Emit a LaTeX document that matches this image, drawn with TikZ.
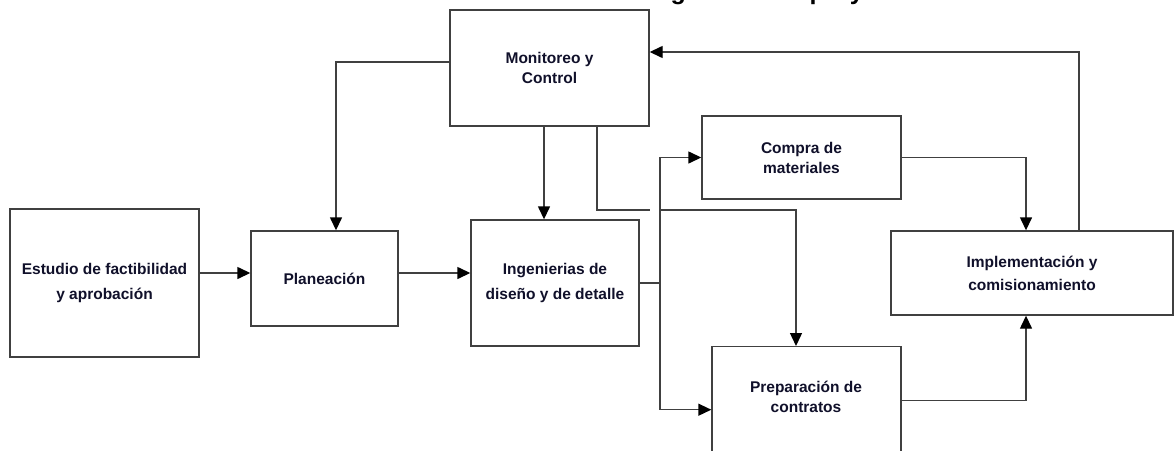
\documentclass[tikz,border=0pt]{standalone}
\usepackage{fontspec}
\setmainfont{Liberation Sans}
\usetikzlibrary{arrows.meta}
\definecolor{edge}{HTML}{404040}
\definecolor{ink}{HTML}{10102A}
\begin{document}
\begin{tikzpicture}[x=1pt,y=-1pt,
  box/.style={draw=edge, line width=1.4pt, fill=white, inner sep=0pt},
  lbl/.style={text=ink, font=\bfseries\fontsize{15.5}{20}\selectfont, align=center},
  wide/.style={font=\bfseries\fontsize{15.5}{25}\selectfont},
  wire/.style={draw=edge, line width=1.4pt},
  arr/.style={wire, -{Triangle[length=13pt,width=12pt,color=black]}}]
\useasboundingbox (0,0) rectangle (1174,450);
\clip (0,0) rectangle (1174,450);

% title (only its lower edge falls inside the page)
\node[anchor=base west, inner sep=0pt, font=\bfseries\fontsize{25}{30}\selectfont] (title) at (670.5,-1) {gestión del proyecto};

% process boxes
\node[box, lbl, minimum width=199, minimum height=116] (mon) at (549.5,68) {Monitoreo y\\Control};
\node[box, lbl, wide, minimum width=189, minimum height=148] (est) at (104.5,283) {Estudio de factibilidad\\y aprobación};
\node[box, lbl, minimum width=147, minimum height=95] (pla) at (324.5,278.5) {Planeación};
\node[box, lbl, wide, minimum width=168, minimum height=126] (ing) at (555,283) {Ingenierias de\\diseño y de detalle};
\node[box, lbl, minimum width=199, minimum height=83] (com) at (801.5,157.5) {Compra de\\materiales};
\node[box, lbl, font=\bfseries\fontsize{15.5}{23}\selectfont, minimum width=282, minimum height=84] (imp) at (1032,273) {Implementación y\\comisionamiento};
\node[box, minimum width=189, minimum height=130, anchor=north] (prep) at (806.5,346) {};
\node[lbl] (preptext) at (806,397) {Preparación de\\contratos};

% junction points of the distribution line
\coordinate (split) at (660,210);
\coordinate (jump) at (650,210);

% connectors
\draw[arr] ([yshift=10pt]est.east) -- ([yshift=10pt]est.east -| pla.west);
\draw[arr] ([yshift=5.5pt]pla.east) -- ([yshift=5.5pt]pla.east -| ing.west);
\draw[arr] ([yshift=6pt]mon.west) -| ([xshift=11.5pt]pla.north);
\draw[arr] ([xshift=-5.5pt]mon.south) -- ([xshift=-5.5pt]mon.south |- ing.north);
\draw[wire] ([xshift=47.5pt]mon.south) |- (jump);
\draw[arr] (split) -| ([xshift=-10.5pt]prep.north);
\draw[wire] (ing.east) -- (split |- ing.east);
\draw[arr] (split |- ing.east) |- (com.west);
\draw[arr] (split |- ing.east) |- ([yshift=2pt]prep.west);
\draw[arr] (com.east) -| ([xshift=-6pt]imp.north);
\draw[arr] ([yshift=11pt]prep.east) -| ([xshift=-6pt]imp.south);
\draw[arr] ([xshift=47pt]imp.north) |- ([yshift=16pt]mon.east);
\end{tikzpicture}
\end{document}
